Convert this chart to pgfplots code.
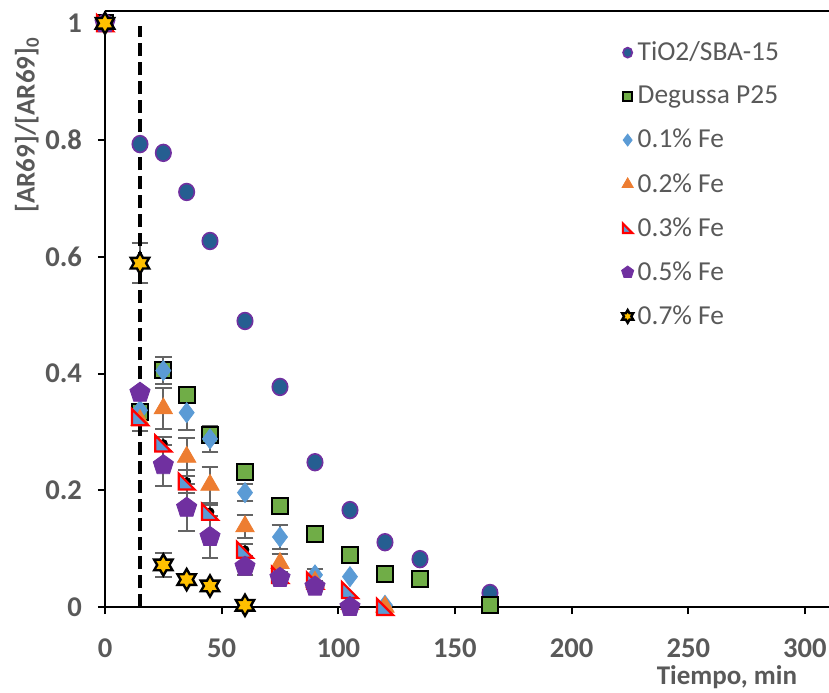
\documentclass[border=0pt]{standalone}
\usepackage{fontspec}
\setmainfont{Carlito}
\usepackage{pgfplots}
\pgfplotsset{compat=1.18}
\definecolor{tg}{RGB}{89,89,89}
\definecolor{eb}{RGB}{100,100,100}
\definecolor{cblue}{RGB}{37,94,145}
\definecolor{cpurp}{RGB}{112,48,160}
\definecolor{cgreen}{RGB}{112,173,71}
\definecolor{clblue}{RGB}{91,155,213}
\definecolor{corange}{RGB}{237,125,49}
\definecolor{cgold}{RGB}{255,192,0}
\pgfdeclareplotmark{rtri*}{%
  \pgfpathmoveto{\pgfqpoint{-\pgfplotmarksize}{\pgfplotmarksize}}%
  \pgfpathlineto{\pgfqpoint{-\pgfplotmarksize}{-\pgfplotmarksize}}%
  \pgfpathlineto{\pgfqpoint{\pgfplotmarksize}{-\pgfplotmarksize}}%
  \pgfpathclose\pgfusepathqfillstroke}
\pgfdeclareplotmark{hexstar*}{%
  \pgfpathmoveto{\pgfpointpolar{90}{\pgfplotmarksize}}%
  \pgfpathlineto{\pgfpointpolar{120}{0.577\pgfplotmarksize}}%
  \pgfpathlineto{\pgfpointpolar{150}{\pgfplotmarksize}}%
  \pgfpathlineto{\pgfpointpolar{180}{0.577\pgfplotmarksize}}%
  \pgfpathlineto{\pgfpointpolar{210}{\pgfplotmarksize}}%
  \pgfpathlineto{\pgfpointpolar{240}{0.577\pgfplotmarksize}}%
  \pgfpathlineto{\pgfpointpolar{270}{\pgfplotmarksize}}%
  \pgfpathlineto{\pgfpointpolar{300}{0.577\pgfplotmarksize}}%
  \pgfpathlineto{\pgfpointpolar{330}{\pgfplotmarksize}}%
  \pgfpathlineto{\pgfpointpolar{0}{0.577\pgfplotmarksize}}%
  \pgfpathlineto{\pgfpointpolar{30}{\pgfplotmarksize}}%
  \pgfpathlineto{\pgfpointpolar{60}{0.577\pgfplotmarksize}}%
  \pgfpathclose\pgfusepathqfillstroke}
\pgfplotsset{
  errs/.style={forget plot, only marks, mark=none,
    error bars/.cd, y dir=both, y explicit,
    error bar style={eb, line width=1pt},
    error mark options={eb, rotate=90, mark size=4.2pt, line width=1pt}},
}
\begin{document}
\begin{tikzpicture}
\begin{axis}[
  scale only axis, width=362pt, height=298pt,
  xmin=0, xmax=310.3, ymin=0, ymax=1.021,
  axis lines=left, axis line style={-, line width=1.2pt, black},
  clip=false,
  xtick={0,50,...,300}, ytick={0,0.2,...,1},
  tick align=outside, major tick length=3.5pt,
  tick style={line width=1pt, black},
  /pgf/number format/assume math mode=true,
  ticklabel style={font=\bfseries\fontsize{14.3}{16}\selectfont, text=tg},
  yticklabel style={/pgf/number format/fixed, xshift=-4.5pt},
  xticklabel style={yshift=-9pt},
  xlabel={Tiempo, min},
  ylabel={[AR69]/[AR69]\textsubscript{0}},
  xlabel style={at={(rel axis cs:0.859,-0.1174)}, anchor=center, font=\bfseries\fontsize{13.5}{16}\selectfont, text=tg},
  ylabel style={at={(rel axis cs:-0.1077,0.809)}, anchor=center, rotate=0, font=\bfseries\fontsize{13.5}{16}\selectfont, text=tg},
  legend style={draw=none, fill=none, at={(rel axis cs:0.713,0.956)}, anchor=north west,
    font=\fontsize{13.7}{15}\selectfont, text=tg, row sep=7.2pt, inner sep=0pt},
  legend cell align=left,
  legend image code/.code={\draw[#1, /tikz/every mark/.append style={scale=0.6}] plot coordinates {(0.2cm,0cm)};},
]
% TiO2/SBA-15
\addplot[only marks, mark=*, mark size=4.2pt, mark options={fill=cblue, draw=cpurp, line width=0.8pt, xscale=0.92}]
  coordinates {(0,1) (15,0.793) (25,0.778) (35,0.711) (45,0.627) (60,0.49) (75,0.377) (90,0.248) (105,0.166) (120,0.111) (135,0.082) (165,0.024)};
\addlegendentry{TiO2/SBA-15}
% Degussa P25
\addplot[only marks, mark=square*, mark size=4pt, mark options={fill=cgreen, draw=black, line width=1pt}]
  coordinates {(0,1) (15,0.334) (25,0.406) (35,0.363) (45,0.295) (60,0.232) (75,0.173) (90,0.125) (105,0.089) (120,0.057) (135,0.048) (165,0.003)};
\addlegendentry{Degussa P25}
% 0.1% Fe
\addplot[errs] coordinates {(15,0.337) +- (0,0.035) (25,0.405) +- (0,0.023) (35,0.333) +- (0,0.03) (45,0.288) +- (0,0.022) (60,0.196) +- (0,0.015) (75,0.12) +- (0,0.02) (90,0.055) +- (0,0.01)};
\addplot[only marks, mark=diamond*, mark size=5pt, mark options={fill=clblue, draw=clblue}]
  coordinates {(0,1) (15,0.337) (25,0.405) (35,0.333) (45,0.288) (60,0.196) (75,0.12) (90,0.055) (105,0.052) (120,0.003)};
\addlegendentry{0.1\% Fe}
% 0.2% Fe
\addplot[errs] coordinates {(25,0.34) +- (0,0.035) (35,0.257) +- (0,0.033) (45,0.209) +- (0,0.03) (60,0.138) +- (0,0.02) (75,0.075) +- (0,0.015)};
\addplot[only marks, mark=triangle*, mark size=5.3pt, mark options={fill=corange, draw=corange}]
  coordinates {(0,1) (15,0.32) (25,0.34) (35,0.257) (45,0.209) (60,0.138) (75,0.075) (90,0.043) (105,0.005) (120,0.0)};
\addlegendentry{0.2\% Fe}
% 0.3% Fe
\addplot[errs] coordinates {(25,0.28) +- (0,0.012) (35,0.215) +- (0,0.02) (45,0.163) +- (0,0.012) (60,0.098) +- (0,0.01)};
\addplot[only marks, mark=rtri*, mark size=4pt, mark options={fill=clblue, draw=red, line width=1.1pt}]
  coordinates {(0,1) (15,0.325) (25,0.28) (35,0.215) (45,0.163) (60,0.098) (75,0.055) (90,0.045) (105,0.029) (120,0.0)};
\addlegendentry{0.3\% Fe}
% 0.5% Fe
\addplot[errs] coordinates {(25,0.243) +- (0,0.035) (35,0.17) +- (0,0.04) (45,0.12) +- (0,0.036) (60,0.069) +- (0,0.015)};
\addplot[only marks, mark=pentagon*, mark size=5.3pt, mark options={fill=cpurp, draw=cpurp}]
  coordinates {(0,1) (15,0.367) (25,0.243) (35,0.17) (45,0.12) (60,0.069) (75,0.05) (90,0.035) (105,0.0)};
\addlegendentry{0.5\% Fe}
% 0.7% Fe
\addplot[errs] coordinates {(15,0.589) +- (0,0.034) (25,0.072) +- (0,0.02) (35,0.047) +- (0,0.01)};
\addplot[only marks, mark=hexstar*, mark size=5.3pt, mark options={fill=cgold, draw=black, line width=1.2pt}]
  coordinates {(0,1) (15,0.589) (25,0.072) (35,0.047) (45,0.036) (60,0.003)};
\addlegendentry{0.7\% Fe}
% dashed line
\addplot[forget plot, black, line width=2pt, dash pattern=on 6.5pt off 3pt] coordinates {(15,0) (15,0.995)};
\draw[line width=1.2pt] (rel axis cs:0,1) -- (rel axis cs:1,1);
\end{axis}
\pgfresetboundingbox
\path[use as bounding box] (-52.5pt,-42.5pt) rectangle (362pt,303.5pt);
\end{tikzpicture}
\end{document}
